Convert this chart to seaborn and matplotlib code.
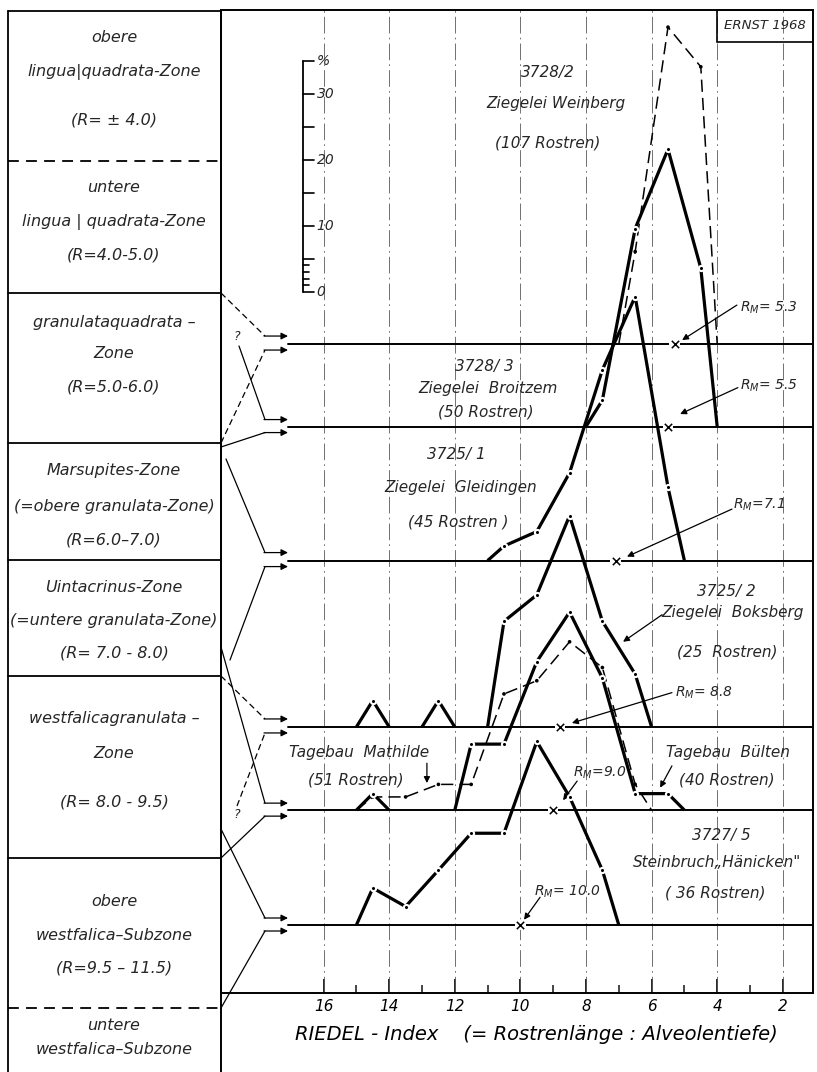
"""
RIEDEL-Index Verteilungen (ERNST 1968) - Nachzeichnung
"""

import numpy as np
import pandas as pd
import matplotlib
matplotlib.use("Agg")
import matplotlib.pyplot as plt
from matplotlib.patches import Rectangle
import seaborn as sns

# Klassenmitten des RIEDEL-Index (Klassenbreite 1)
klassen = [14.5, 13.5, 12.5, 11.5, 10.5, 9.5, 8.5, 7.5, 6.5, 5.5, 4.5]

# Haeufigkeiten in % je Klasse
weinberg = [0, 0, 0, 0, 0, 0, 0, 0, 14.0, 48.0, 42.0]
broitzem = [0, 0, 0, 0, 0, 0, 0, 4.0, 30.0, 42.0, 24.0]
gleidingen = [0, 0, 0, 0, 2.2, 4.4, 13.3, 28.9, 40.0, 11.1, 0]
boksberg = [4.0, 0, 4.0, 0, 16.0, 20.0, 32.0, 16.0, 8.0, 0, 0]
mathilde = [2.0, 2.0, 3.9, 3.9, 17.6, 19.6, 25.5, 21.6, 3.9, 0, 0]
buelten = [2.5, 0, 0, 10.0, 10.0, 22.5, 30.0, 20.0, 2.5, 2.5, 0]
haenicken = [5.6, 2.8, 8.3, 13.9, 13.9, 27.8, 19.4, 8.3, 0, 0, 0]

# Mittelwerte R_M je Nulllinie
rm_werte = [5.3, 5.5, 7.1, 8.8, 9.0, 10.0]
rm_texte = ["$R_M$= 5.3", "$R_M$= 5.5", "$R_M$=7.1", "$R_M$= 8.8", "$R_M$=9.0", "$R_M$= 10.0"]

x_ticks = [16, 14, 12, 10, 8, 6, 4, 2]
skala_ticks = [0, 1, 2, 3, 4, 5, 10, 15, 20, 25, 30, 35]
skala_labels = {0: "0", 10: "10", 20: "20", 30: "30", 35: "%"}

beschriftung = {
    "weinberg": ["3728/2", "Ziegelei Weinberg", "(107 Rostren)"],
    "broitzem": ["3728/ 3", "Ziegelei  Broitzem", "(50 Rostren)"],
    "gleidingen": ["3725/ 1", "Ziegelei  Gleidingen", "(45 Rostren )"],
    "boksberg": ["3725/ 2", "Ziegelei  Boksberg", "(25  Rostren)"],
    "mathilde": ["Tagebau  Mathilde", "(51 Rostren)"],
    "buelten": ["Tagebau  Bülten", "(40 Rostren)"],
    "haenicken": ["3727/ 5", "Steinbruch\u201eHänicken\"", "( 36 Rostren)"],
}

zonen = [
    ["obere", "lingua|quadrata-Zone", "(R= \u00b1 4.0)"],
    ["untere", "lingua | quadrata-Zone", "(R=4.0-5.0)"],
    ["granulataquadrata \u2013", "Zone", "(R=5.0-6.0)"],
    ["Marsupites-Zone", "(=obere granulata-Zone)", "(R=6.0\u20137.0)"],
    ["Uintacrinus-Zone", "(=untere granulata-Zone)", "(R= 7.0 - 8.0)"],
    ["westfalicagranulata \u2013", "Zone", "(R= 8.0 - 9.5)"],
    ["obere", "westfalica\u2013Subzone", "(R=9.5 \u2013 11.5)"],
    ["untere", "westfalica\u2013Subzone"],
]

# ---------------- Layout (Positionen, keine Daten) ----------------
# Nulllinien in %-Einheiten ueber der x-Achse
nulllinie = {"weinberg": 98.3, "broitzem": 85.8, "gleidingen": 65.5,
             "boksberg": 40.3, "mathilde": 27.7, "buelten": 27.7, "haenicken": 10.3}
rm_linie = ["weinberg", "broitzem", "gleidingen", "boksberg", "buelten", "haenicken"]

stil = {
    "weinberg": "dash", "broitzem": "dick", "gleidingen": "dick", "boksberg": "dick",
    "mathilde": "dash", "buelten": "dick", "haenicken": "dick",
}

text_pos = {
    "weinberg": [(9.16, 139.5), (8.91, 134.7), (9.16, 128.8)],
    "broitzem": [(11.11, 94.85), (10.99, 91.5), (11.05, 88.0)],
    "gleidingen": [(11.96, 81.5), (11.81, 76.5), (11.90, 71.4)],
    "boksberg": [(3.73, 60.8), (3.52, 57.6), (3.70, 51.7)],
    "mathilde": [(14.92, 36.4), (15.01, 32.3)],
    "buelten": [(3.67, 36.4), (3.70, 32.3)],
    "haenicken": [(3.88, 23.9), (4.01, 19.7), (4.07, 15.2)],
}
# (Textanfang, Pfeilschwanz, Pfeilspitze)
rm_pos = [
    ((3.30, 103.8), (3.40, 104.2), (5.07, 98.9)),
    ((3.30, 92.0), (3.37, 91.7), (5.13, 87.7)),
    ((3.52, 73.9), (3.55, 73.3), (6.75, 66.1)),
    ((5.29, 45.5), (5.38, 45.5), (8.43, 40.9)),
    ((8.40, 33.3), (8.27, 32.1), (8.70, 29.2)),
    ((9.59, 15.3), (9.40, 14.5), (9.89, 11.1)),
]
hinweis_pfeile = [((5.68, 57.3), (6.87, 53.2)),    # Boksberg
                  ((12.85, 34.8), (12.85, 31.8)),  # Mathilde
                  ((5.38, 34.4), (5.74, 31.1))]    # Buelten

zonen_grenzen = [(11, "-"), (161, "--"), (293, "-"), (443, "-"), (560, "-"),
                 (676, "-"), (858, "-"), (1008, "--")]
zonen_text_y = [[37, 72, 120], [188, 222, 255], [322, 353, 387], [470, 506, 540],
                [588, 620, 653], [719, 753, 802], [901, 935, 968], [1026, 1050]]

verbindungen = [
    ((221, 293), "--", "weinberg", -8), ((221, 443), "--", "weinberg", 6),
    ((239, 346), "-", "broitzem", -7), ((221, 447), "-", "broitzem", 6),
    ((226, 459), "-", "gleidingen", -8), ((230, 660), "-", "gleidingen", 6),
    ((221, 676), "--", "boksberg", -8), ((237, 806), "--", "boksberg", 6),
    ((221, 647), "-", "buelten", -7), ((221, 858), "-", "buelten", 6),
    ((221, 829), "-", "haenicken", -7), ((221, 1008), "-", "haenicken", 6),
]


def polygon_runs(mids, vals):
    """Zerlegt ein Haeufigkeitspolygon in zusammenhaengende Abschnitte."""
    runs, cur = [], []
    for m, v in zip(mids, vals):
        if v > 0:
            if not cur:
                cur.append((m + 0.5, 0.0))
            cur.append((m, v))
        elif cur:
            cur.append((cur[-1][0] - 0.5, 0.0))
            runs.append(cur)
            cur = []
    if cur:
        cur.append((cur[-1][0] - 0.5, 0.0))
        runs.append(cur)
    return runs


sns.set_theme(style="white")
plt.rcParams["font.family"] = ["DejaVu Sans"]
plt.rcParams["font.style"] = "italic"
plt.rcParams["mathtext.fontset"] = "dejavusans"

fig = plt.figure(figsize=(8.17, 10.72), dpi=100)
ax = fig.add_axes([221 / 817, 79 / 1072, 592 / 817, 983 / 1072])
ov = fig.add_axes([0, 0, 1, 1], zorder=5)
ov.set_xlim(0, 817)
ov.set_ylim(1072, 0)
ov.axis("off")

XL, XR = 19.128, 1.079
ax.set_xlim(XL, XR)
ax.set_ylim(0, 148.9)

# Rasterlinien
for t in x_ticks:
    ax.axvline(t, color="0.35", lw=0.6, linestyle=(0, (20, 5, 2, 5)), zorder=1)

# Nulllinien
for key in ["weinberg", "broitzem", "gleidingen", "boksberg", "buelten", "haenicken"]:
    ax.plot([17.1, XR], [nulllinie[key]] * 2, color="black", lw=1.4, zorder=2)

serien = {"weinberg": weinberg, "broitzem": broitzem, "gleidingen": gleidingen,
          "boksberg": boksberg, "mathilde": mathilde, "buelten": buelten,
          "haenicken": haenicken}

for key, vals in serien.items():
    base = nulllinie[key]
    for run in polygon_runs(klassen, vals):
        df = pd.DataFrame(run, columns=["riedel", "pct"])
        df["y"] = df["pct"] + base
        inner = df.iloc[1:-1]
        if stil[key] == "dick":
            sns.lineplot(data=df, x="riedel", y="y", ax=ax, sort=False, estimator=None,
                         color="black", lw=2.3, solid_capstyle="butt", zorder=4)
            sns.scatterplot(data=inner, x="riedel", y="y", ax=ax, s=14, color="black",
                            edgecolor="white", linewidth=1.5, zorder=6)
        else:
            sns.lineplot(data=df, x="riedel", y="y", ax=ax, sort=False, estimator=None,
                         color="black", lw=1.1, linestyle=(0, (8, 4)), zorder=3)
            sns.scatterplot(data=inner, x="riedel", y="y", ax=ax, s=7, color="black",
                            edgecolor="none", zorder=5)

# Mittelwerte (mit kleiner Luecke in der Nulllinie)
rm_y = [nulllinie[k] for k in rm_linie]
sns.scatterplot(x=rm_werte, y=rm_y, ax=ax, marker="s", s=55, color="white",
                edgecolor="none", zorder=2.5)
sns.scatterplot(x=rm_werte, y=rm_y, ax=ax, marker="x",
                s=28, color="black", linewidth=1.1, zorder=7)
for txt, (tp, tail, head) in zip(rm_texte, rm_pos):
    ax.text(tp[0], tp[1], txt, fontsize=10, ha="left", va="center")
    ax.annotate("", xy=head, xytext=tail,
                arrowprops=dict(arrowstyle="-|>", color="black", lw=0.9,
                                mutation_scale=9, shrinkA=0, shrinkB=0))

for tail, head in hinweis_pfeile:
    ax.annotate("", xy=head, xytext=tail,
                arrowprops=dict(arrowstyle="-|>", color="black", lw=0.9,
                                mutation_scale=9, shrinkA=0, shrinkB=0))

# Fundort-Beschriftungen
for key, zeilen in beschriftung.items():
    for txt, (xv, yv) in zip(zeilen, text_pos[key]):
        ax.text(xv, yv, txt, fontsize=11, ha="center", va="center")

# Prozent-Skala
sx, sy = 16.63, 106.2
ax.plot([sx, sx], [sy, sy + 35], color="black", lw=1.3)
for t in skala_ticks:
    L = 0.33 if t % 5 == 0 else 0.19
    ax.plot([sx, sx - L], [sy + t] * 2, color="black", lw=1.2)
    if t in skala_labels:
        ax.text(sx - 0.42, sy + t, skala_labels[t], fontsize=10, ha="left", va="center")

# ERNST 1968 Kasten
ax.add_patch(Rectangle((0.838, 0.9675), 0.162, 0.0325, transform=ax.transAxes,
                       fill=False, lw=1.2, color="black"))
ax.text(0.919, 0.984, "ERNST 1968", transform=ax.transAxes, fontsize=9.5,
        ha="center", va="center")

# Achsen
for side in ["left", "top", "right", "bottom"]:
    ax.spines[side].set_visible(True)
    ax.spines[side].set_color("black")
    ax.spines[side].set_linewidth(1.4)
ax.set_yticks([])
ax.set_xticks(x_ticks)
ax.set_xticks(range(3, 16, 2), minor=True)
ax.set_xticklabels([str(t) for t in x_ticks], fontsize=11)
ax.tick_params(axis="x", which="major", direction="in", length=10, width=1.2,
               pad=4, bottom=True, colors="black")
ax.tick_params(axis="x", which="minor", direction="in", length=6, width=1.2,
               bottom=True)
ax.set_ylabel("")
ax.set_xlabel("RIEDEL - Index    (= Rostrenlänge : Alveolentiefe)", fontsize=14,
              color="black")
ax.xaxis.set_label_coords(0.532, -0.033)
ax.grid(False)

# Linke Zonenspalte
ov.plot([8, 8], [11, 1072], color="black", lw=1.3)
ov.plot([221, 221], [10, 1072], color="black", lw=1.4)
for yb, ls in zonen_grenzen:
    ov.plot([8, 221], [yb, yb], color="black", lw=1.3,
            linestyle=ls if ls == "-" else (0, (6, 4)))
for zeilen, ys in zip(zonen, zonen_text_y):
    for txt, yy in zip(zeilen, ys):
        ov.text(114, yy, txt, fontsize=11.5, ha="center", va="center")


def data_to_px(x, y):
    disp = ax.transData.transform((x, y))
    return ov.transData.inverted().transform(disp)


# Verbindungspfeile zu den Nulllinien
for (x0, y0), ls, key, off in verbindungen:
    yb = data_to_px(17.1, nulllinie[key])[1] + off
    ov.plot([x0, 265], [y0, yb], color="black", lw=0.9,
            linestyle="-" if ls == "-" else (0, (5, 3)))
    ov.annotate("", xy=(288, yb), xytext=(264, yb),
                arrowprops=dict(arrowstyle="-|>", color="black", lw=0.9,
                                mutation_scale=10, shrinkA=0, shrinkB=0))
ov.text(237, 336, "?", fontsize=9, ha="center", va="center")
ov.text(237, 815, "?", fontsize=9, ha="center", va="center")

fig.savefig("out.png", dpi=100)
plt.close(fig)
